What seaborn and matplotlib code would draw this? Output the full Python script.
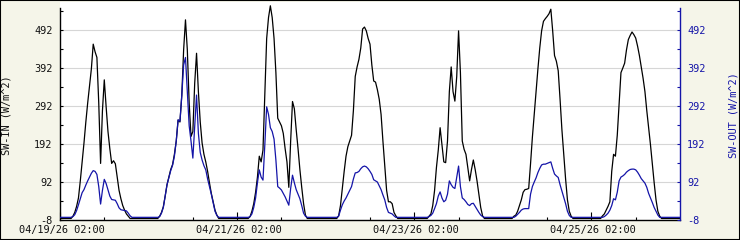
import matplotlib
matplotlib.use('Agg')
import matplotlib.pyplot as plt
from matplotlib.patches import Rectangle
import seaborn as sns
import pandas as pd

# ---- data (half-hourly, starting 04/18/26 14:00) ----
start_time = '2026-04-18 14:00'

sw_in_d0 = [-4, -4, -4, -4, -4, -4, -4,
            2, 12, 28, 50, 95, 145, 195, 250, 300, 345, 390, 455, 435, 420, 300, 141,
            280, 361, 290, 225, 180, 141, 148, 140, 105, 70, 48, 30, 18, 8, 2,
            -4, -4, -4, -4, -4, -4, -4, -4, -4, -4]
sw_in_d1 = [-4, -4, -4, -4, -4, -4,
            2, 12, 27, 55, 85, 105, 125, 138, 165, 200, 255, 250, 320, 440, 519, 440,
            300, 212, 225, 352, 431, 330, 250, 195, 165, 145, 120, 90, 62, 40, 18, 5,
            -4, -4, -4, -4, -4, -4, -4, -4, -4, -4]
sw_in_d2 = [-4, -4, -4, -4, -4, -4, -4,
            1, 15, 35, 65, 105, 160, 145, 176, 320, 470, 525, 556, 525, 470, 380, 260,
            250, 240, 220, 180, 145, 78, 200, 304, 285, 230, 180, 125, 78, 35, 5,
            -4, -4, -4, -4, -4, -4, -4, -4, -4, -4]
sw_in_d3 = [-4, -4, -4, -4, -4, -4, -4,
            3, 30, 75, 120, 160, 185, 200, 215, 280, 370, 395, 415, 445, 495, 500, 490,
            470, 455, 400, 358, 355, 335, 310, 270, 200, 135, 70, 40, 40, 35, 12, 3,
            -4, -4, -4, -4, -4, -4, -4, -4, -4]
sw_in_d4 = [-4, -4, -4, -4, -4, -4, -4, -4,
            2, 8, 30, 70, 130, 176, 235, 190, 145, 143, 200, 330, 395, 330, 305, 370,
            490, 380, 200, 178, 165, 130, 95, 125, 150, 125, 95, 60, 25, 3,
            -4, -4, -4, -4, -4, -4, -4, -4, -4, -4]
sw_in_d5 = [-4, -4, -4, -4, -4, -4,
            2, 5, 15, 30, 45, 65, 72, 73, 75, 140, 210, 270, 330, 390, 445, 490,
            515, 522, 528, 535, 547, 490, 425, 410, 385, 310, 230, 165, 100, 45, 15, 2,
            -4, -4, -4, -4, -4, -4, -4, -4, -4, -4]
sw_in_d6 = [-4, -4, -4, -4, -4, -4,
            3, 8, 18, 28, 40, 120, 165, 160, 215, 300, 380, 392, 405, 440, 467, 478,
            487, 480, 471, 450, 425, 395, 365, 330, 280, 235, 190, 140, 90, 45, 15, 2,
            -4, -4, -4, -4, -4, -4, -4, -4, -4, -4, -4]

sw_out_d0 = [-1, -1, -1, -1, -1, -1, -1,
             1, 6, 17, 32, 48, 64, 72, 84, 95, 105, 115, 122, 120, 112, 80, 34,
             70, 99, 88, 72, 55, 46, 45, 44, 35, 24, 19, 18, 17, 16, 10, 3,
             -1, -1, -1, -1, -1, -1, -1, -1, -1]
sw_out_d1 = [-1, -1, -1, -1, -1, -1,
             1, 10, 25, 55, 85, 103, 122, 136, 160, 200, 256, 252, 320, 400, 420, 330,
             240, 200, 155, 240, 321, 220, 170, 150, 135, 124, 100, 80, 60, 38, 15, 4,
             -1, -1, -1, -1, -1, -1, -1, -1, -1, -1]
sw_out_d2 = [-1, -1, -1, -1, -1, -1, -1,
             1, 8, 25, 50, 90, 124, 105, 97, 190, 290, 270, 235, 225, 205, 150, 80,
             76, 71, 62, 53, 42, 31, 75, 110, 90, 72, 60, 48, 30, 10, 2,
             -1, -1, -1, -1, -1, -1, -1, -1, -1, -1]
sw_out_d3 = [-1, -1, -1, -1, -1, -1, -1,
             2, 18, 32, 42, 50, 60, 70, 80, 100, 116, 117, 120, 127, 132, 134, 132,
             127, 120, 112, 98, 95, 92, 82, 72, 58, 45, 25, 12, 10, 8, 3,
             -1, -1, -1, -1, -1, -1, -1, -1, -1, -1]
sw_out_d4 = [-1, -1, -1, -1, -1, -1, -1, -1,
             1, 4, 10, 22, 35, 55, 66, 50, 40, 44, 60, 95, 85, 78, 75, 105,
             134, 80, 50, 46, 40, 33, 30, 35, 36, 28, 20, 12, 5, 1,
             -1, -1, -1, -1, -1, -1, -1, -1, -1, -1]
sw_out_d5 = [-1, -1, -1, -1, -1, -1, -1,
             2, 7, 12, 18, 21, 22, 22, 22, 60, 80, 92, 103, 117, 128, 137, 139,
             139, 141, 143, 145, 128, 113, 108, 104, 85, 68, 52, 35, 15, 4,
             -1, -1, -1, -1, -1, -1, -1, -1, -1, -1, -1]
sw_out_d6 = [-1, -1, -1, -1, -1, -1, -1,
             1, 5, 10, 18, 30, 48, 45, 65, 95, 105, 108, 112, 118, 122, 125, 126,
             126, 124, 118, 110, 101, 95, 89, 78, 62, 50, 38, 25, 15, 5,
             -1, -1, -1, -1, -1, -1, -1, -1, -1, -1, -1, -1]

sw_in = sw_in_d0 + sw_in_d1 + sw_in_d2 + sw_in_d3 + sw_in_d4 + sw_in_d5 + sw_in_d6
sw_out = sw_out_d0 + sw_out_d1 + sw_out_d2 + sw_out_d3 + sw_out_d4 + sw_out_d5 + sw_out_d6

y_major = [-8, 92, 192, 292, 392, 492]
y_minor = [42, 142, 242, 342, 442, 542]
x_label_ticks = ['2026-04-19 02:00', '2026-04-20 02:00', '2026-04-21 02:00',
                 '2026-04-22 02:00', '2026-04-23 02:00', '2026-04-24 02:00',
                 '2026-04-25 02:00']
x_labels = ['04/19/26 02:00', '', '04/21/26 02:00', '', '04/23/26 02:00', '',
            '04/25/26 02:00']
x_long_ticks = ['2026-04-18 14:00', '2026-04-20 14:00', '2026-04-22 14:00',
                '2026-04-24 14:00']

# ---- build frame ----
times = pd.date_range(start_time, periods=len(sw_in), freq='30min')
df = pd.DataFrame({'time': times, 'SW-IN': sw_in, 'SW-OUT': sw_out})

sns.set_theme(style='white')
plt.rcParams['font.family'] = ['DejaVu Sans Mono', 'DejaVu Sans']

BLUE = '#1414a8'
BG = '#f5f5e9'
FS = 7.4

fig = plt.figure(figsize=(7.4, 2.4), dpi=100, facecolor=BG)
ax = fig.add_axes([60 / 740, 20 / 240, 620 / 740, 218 / 240])
ax.set_facecolor('white')
ax2 = ax.twinx()

sns.lineplot(data=df, x='time', y='SW-IN', ax=ax, color='black', lw=0.9)
sns.lineplot(data=df, x='time', y='SW-OUT', ax=ax2, color=BLUE, lw=0.9)

ylo, yhi = -8, 566
for a in (ax, ax2):
    a.set_ylim(ylo, yhi)
    a.set_xlim(times[0], times[-1])
    a.set_yticks(y_major)
    a.set_yticks(y_minor, minor=True)
    a.set_xlabel('')

ax.grid(axis='y', which='major', color='#d6d6d6', lw=0.8)
ax.set_axisbelow(True)

# spines
ax.spines['top'].set_visible(False)
ax.spines['right'].set_visible(False)
ax.spines['left'].set_color('black')
ax.spines['bottom'].set_color('black')
ax.spines['left'].set_bounds(-8, 549)
for s in ('top', 'left', 'bottom'):
    ax2.spines[s].set_visible(False)
ax2.spines['right'].set_color(BLUE)
ax2.spines['right'].set_bounds(-8, 549)
for sp in list(ax.spines.values()) + list(ax2.spines.values()):
    sp.set_linewidth(1.0)

# y ticks
ax.tick_params(axis='y', which='both', direction='in', length=2.5, width=0.8,
               color='black', labelcolor='#111111', labelsize=FS, pad=5.5, left=True)
ax2.tick_params(axis='y', which='both', direction='in', length=2.5, width=0.8,
                color=BLUE, labelcolor=BLUE, labelsize=FS, pad=5, right=True)
ax.set_yticklabels([str(v) for v in y_major])
ax2.set_yticklabels([str(v) for v in y_major])

# x ticks: long unlabeled ticks every 2 days at 14:00, short labeled daily ticks at 02:00
ax.set_xticks(pd.to_datetime(x_long_ticks))
ax.set_xticklabels([''] * len(x_long_ticks))
ax.set_xticks(pd.to_datetime(x_label_ticks), minor=True)
ax.set_xticklabels(x_labels, minor=True)
ax.tick_params(axis='x', which='major', direction='in', length=5.8, width=0.8,
               color='black', bottom=True)
ax.tick_params(axis='x', which='minor', direction='in', length=2.2, width=0.8,
               color='black', bottom=True, labelsize=FS, labelcolor='#111111', pad=3.5)
for lab in ax.get_xticklabels(minor=True):
    lab.set_horizontalalignment('right')
ax2.tick_params(axis='x', which='both', bottom=False, top=False)

# axis labels (centred on their anchor)
ax.set_ylabel('SW-IN (W/m^2)', fontsize=FS, color='#111111', va='center')
ax.yaxis.set_label_coords(-0.0855, 0.48)
ax2.set_ylabel('SW-OUT (W/m^2)', fontsize=FS, color=BLUE, rotation=90, va='center')
ax2.yaxis.set_label_coords(1.0855, 0.48)

# outer frame
fig.patches.append(Rectangle((0, 0), 1, 1, transform=fig.transFigure, fill=False,
                             edgecolor='black', lw=1.5, zorder=10))

fig.savefig('out.png', dpi=100, facecolor=fig.get_facecolor())
